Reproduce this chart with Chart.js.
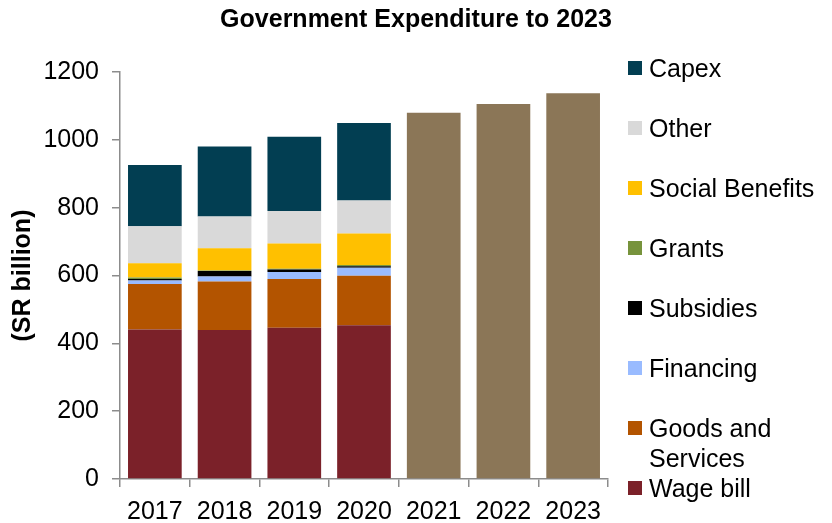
<!DOCTYPE html>
<html>
<head>
<meta charset="utf-8">
<script src="https://cdn.jsdelivr.net/npm/chart.js@4"></script>
<style>
  html, body { margin: 0; padding: 0; background: #fff; }
  #wrap { width: 832px; height: 523px; }
</style>
</head>
<body>
<div id="wrap"><canvas id="chart" width="832" height="523"></canvas></div>
<script>
// Values, SR billion
const years = ['2017', '2018', '2019', '2020', '2021', '2022', '2023'];
const wageBill = [441, 439, 446, 453];
const goodsServices = [134, 143, 144, 146];
const financing = [10, 15, 20, 24];
const subsidies = [5, 16, 8, 4];
const grants = [4, 2, 2, 4];
const socialBenefits = [42, 65, 74, 93];
const other = [109, 94, 96, 97];
const capex = [181, 206, 219, 229];
const totalForecast = [null, null, null, null, 1080, 1106, 1137];
const yTicks = [0, 200, 400, 600, 800, 1000, 1200];

const FONT = 'Arial, "Liberation Sans", sans-serif';
Chart.defaults.font.family = FONT;
Chart.defaults.color = '#000';

function series(label, data, color, extra) {
    return Object.assign({
        label: label,
        data: data,
        backgroundColor: color,
        borderWidth: 0,
        xAxisID: 'x',
        yAxisID: 'y',
        categoryPercentage: 1,
        barPercentage: 0.77
    }, extra || {});
}

// split a legend label into lines that fit maxWidth
function wrapText(ctx, text, maxWidth) {
    const words = text.split(' ');
    const lines = [];
    let line = '';
    for (let w of words) {
        const test = line ? line + ' ' + w : w;
        if (line && ctx.measureText(test).width > maxWidth) {
            lines.push(line);
            line = w;
        } else {
            line = test;
        }
    }
    if (line) lines.push(line);
    return lines;
}

// Legend on the right, Capex on top, like the original
const sideLegend = {
    id: 'sideLegend',
    afterDraw(chart) {
        const ctx = chart.ctx;
        const items = chart.data.datasets.filter(d => !d.noLegend).slice().reverse();
        const left = chart.chartArea.right + 20;
        ctx.save();
        ctx.font = '25px ' + FONT;
        ctx.textBaseline = 'middle';
        let y = 68;
        items.forEach(ds => {
            ctx.fillStyle = ds.backgroundColor;
            ctx.fillRect(left, y - 7, 14, 14);
            ctx.fillStyle = '#000';
            wrapText(ctx, ds.label, 832 - left - 25).forEach((line, i) => {
                ctx.fillText(line, left + 21, y + 2 + i * 30);
            });
            y += 60;
        });
        ctx.restore();
    }
};

const chart = new Chart(document.getElementById('chart'), {
    type: 'bar',
    data: {
        labels: years,
        datasets: [
            series('Wage bill', wageBill, '#7B2129'),
            series('Goods and Services', goodsServices, '#B35400'),
            series('Financing', financing, '#99BBFF'),
            series('Subsidies', subsidies, '#000000'),
            series('Grants', grants, '#77933C'),
            series('Social Benefits', socialBenefits, '#FFC000'),
            series('Other', other, '#D9D9D9'),
            series('Capex', capex, '#023E52'),
            series('Total', totalForecast, '#8B7657', { noLegend: true })
        ]
    },
    options: {
        responsive: false,
        animation: false,
        layout: { padding: 0 },
        plugins: {
            legend: { display: false },
            tooltip: { enabled: false },
            title: {
                display: true,
                text: 'Government Expenditure to 2023',
                font: { size: 25, weight: 'bold' },
                color: '#000',
                padding: { top: 5, bottom: 37 }
            }
        },
        scales: {
            x: {
                stacked: true,
                grid: { drawOnChartArea: false, offset: true, tickLength: 8, color: '#8c8c8c', lineWidth: 1.5 },
                border: { color: '#8c8c8c', width: 1.5 },
                ticks: { font: { size: 25 }, padding: 10, maxRotation: 0, autoSkip: false },
                afterFit(s) { s.height = 44; }
            },
            y: {
                stacked: true,
                min: 0,
                max: 1200,
                afterBuildTicks(s) { s.ticks = yTicks.map(v => ({ value: v })); },
                grid: { drawOnChartArea: false, tickLength: 8, color: '#8c8c8c', lineWidth: 1.5 },
                border: { color: '#8c8c8c', width: 1.5 },
                ticks: { font: { size: 25 }, padding: 13, callback: v => String(v) },
                title: {
                    display: true,
                    text: '(SR billion)',
                    font: { size: 25, weight: 'bold' },
                    padding: { top: 8, bottom: 0 }
                },
                afterFit(s) { s.width = 120; }
            },
            pad: {
                type: 'linear',
                position: 'right',
                grid: { display: false },
                border: { display: false },
                ticks: { display: false },
                afterFit(s) { s.width = 224; }
            }
        }
    },
    plugins: [sideLegend]
});
</script>
</body>
</html>
